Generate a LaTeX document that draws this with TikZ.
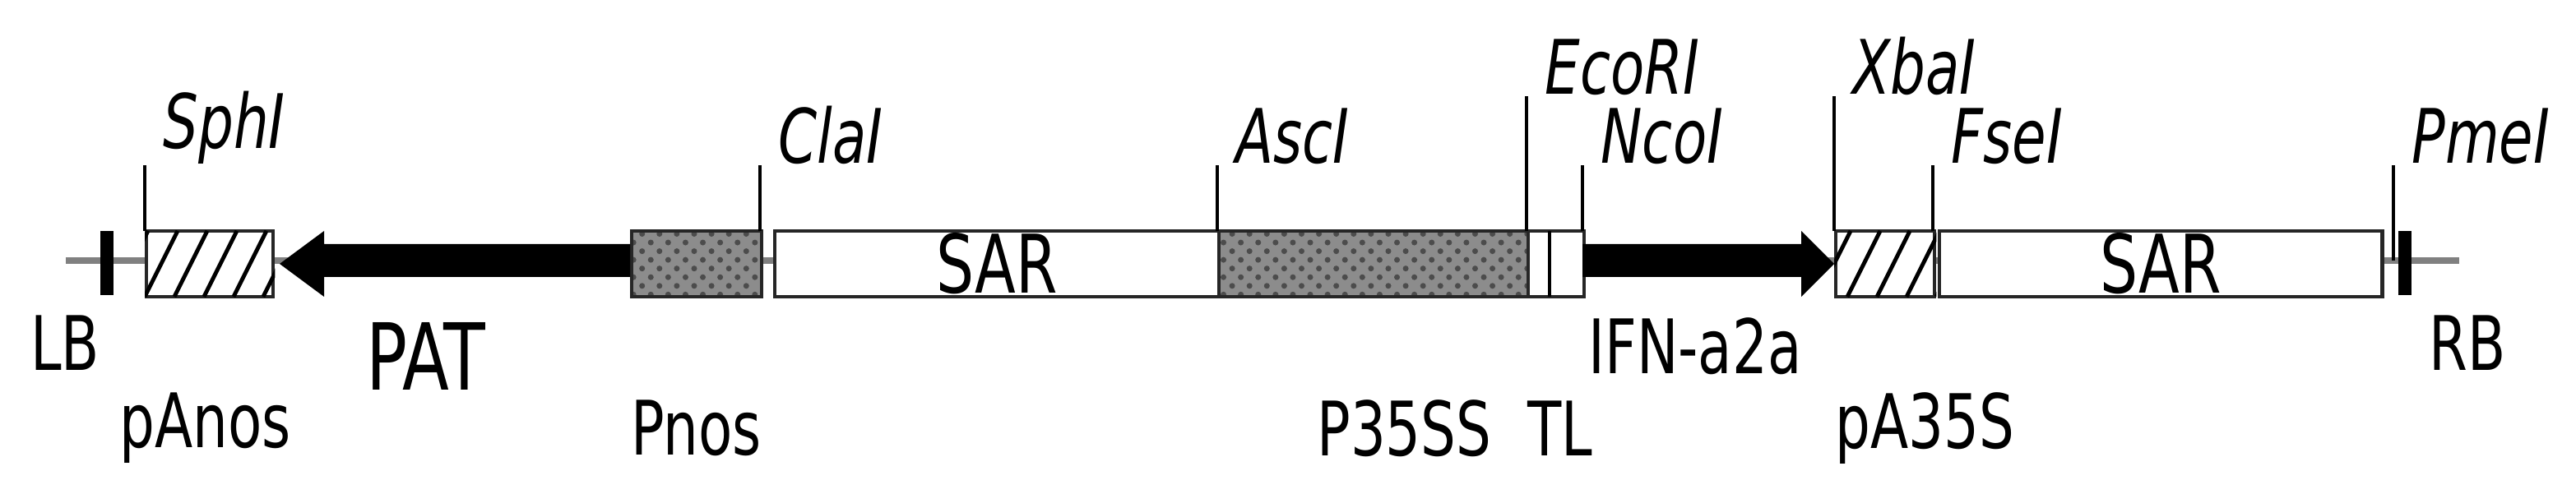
\documentclass[tikz,border=0pt]{standalone}
\usepackage{fontspec}
\setmainfont[FakeStretch=0.82]{DejaVu Sans Condensed}
\usetikzlibrary{arrows.meta,patterns}
\begin{document}
\begin{tikzpicture}[x=0.01cm,y=0.01cm,
  seg/.style={draw=black!85,line width=0.6pt,fill=white,minimum height=0.4cm,inner sep=0pt,anchor=west},
  lbl/.style={font=\fontsize{13}{13}\selectfont,inner sep=0pt},
  enz/.style={font=\fontsize{13}{13}\selectfont\itshape,inner sep=0pt,anchor=south west},
  site/.style={line width=0.5pt},
  tick/.style={line width=2.2pt}]
\useasboundingbox (0,0) rectangle (1566,300.5);
\draw[gray,line width=1.2pt] (40,142) -- (1495,142);
% boxes
\node[seg,minimum width=0.77cm] (pan) at (88,140) {};
\fill[black!45] (383,120) rectangle (462,160);
\node[seg,fill=none,pattern=crosshatch dots,pattern color=black!70,minimum width=0.79cm] (pnos) at (383,140) {};
\node[seg,minimum width=2.70cm,font=\fontsize{14}{14}\selectfont] (sar1) at (470,140) {SAR};
\fill[black!45] (740,120) rectangle (928,160);
\node[seg,fill=none,pattern=crosshatch dots,pattern color=black!70,minimum width=1.88cm] (p35) at (740,140) {};
\node[seg,minimum width=0.34cm] (tl) at (928,140) {};
\draw[line width=0.6pt] (942,120) -- (942,160);
\node[seg,minimum width=0.60cm] (pa35) at (1115,140) {};
\node[seg,minimum width=2.69cm,font=\fontsize{14}{14}\selectfont] (sar2) at (1178,140) {SAR};
% hatching
\begin{scope}
\clip (pan.south west) rectangle (pan.north east);
\foreach \i in {0,...,6}{\draw[line width=0.7pt] (70+\i*18,120) -- (90+\i*18,160);}
\end{scope}
\begin{scope}
\clip (pa35.south west) rectangle (pa35.north east);
\foreach \i in {0,...,4}{\draw[line width=0.7pt] (1105+\i*18,120) -- (1125+\i*18,160);}
\end{scope}
% arrows
\fill (383,132) -- (197,132) -- (197,120) -- (170,140) -- (197,160) -- (197,152) -- (383,152) -- cycle;
\fill (962,132) -- (1095,132) -- (1095,120) -- (1115,140) -- (1095,160) -- (1095,152) -- (962,152) -- cycle;
% LB RB ticks
\coordinate (lbb) at (65,121); \coordinate (lbt) at (65,160);
\draw[tick] (lbb) -- (lbt);
\coordinate (rbb) at (1462,121); \coordinate (rbt) at (1462,160);
\draw[tick] (rbb) -- (rbt);
% sites
\foreach \x/\t/\n in {88/200/SphI,462/200/ClaI,740/200/AscI,928/242/EcoRI,962/200/NcoI,1115/242/XbaI,1175/200/FseI}{
  \coordinate (s\n) at (\x,\t);
  \draw[site] (\x,160) -- (s\n);
  \node[enz] at ([xshift=3]s\n) {\n};
}
\coordinate (sPmeI) at (1455,200);
\draw[site] (1455,142) -- (sPmeI);
\node[enz] at ([xshift=3]sPmeI) {PmeI};
% labels
\node[lbl,anchor=west] (LB) at (18,92) {LB};
\node[lbl,anchor=west,font=\fontsize{16}{16}\selectfont] (PAT) at (222,84) {PAT};
\node[lbl,anchor=west] (pAnos) at (72,40) {pAnos};
\node[lbl,anchor=west] (Pnos) at (383,40) {Pnos};
\node[lbl,anchor=west] (P35SS) at (800,40) {P35SS};
\node[lbl,anchor=west] (TL) at (928,40) {TL};
\node[lbl,anchor=west] (IFN) at (965,90) {IFN-a2a};
\node[lbl,anchor=west] (pA35S) at (1115,40) {pA35S};
\node[lbl,anchor=west] (RB) at (1476,92) {RB};
\end{tikzpicture}
\end{document}
